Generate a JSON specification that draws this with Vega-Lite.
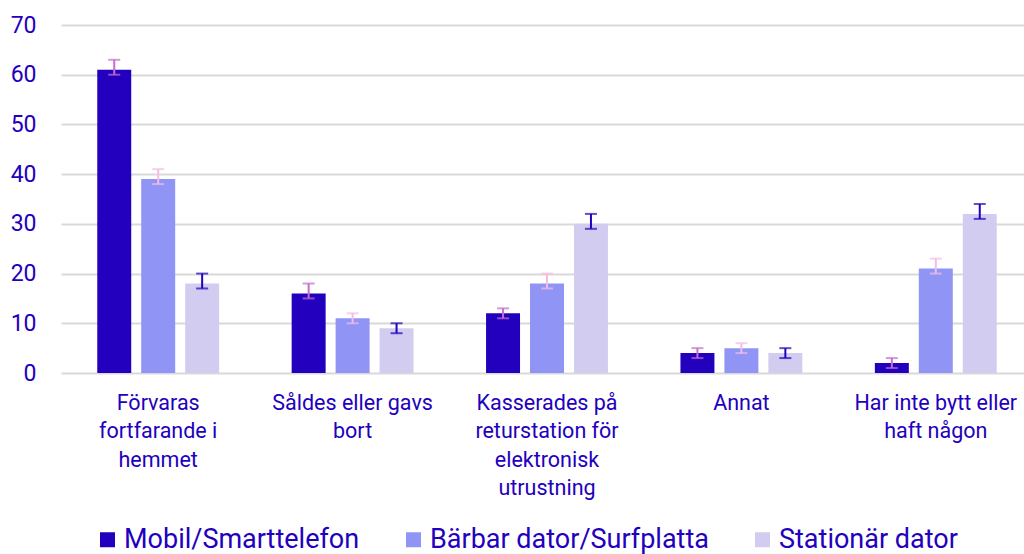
{
  "$schema": "https://vega.github.io/schema/vega-lite/v6.json",
  "usermeta": {"embedOptions": {"actions": false}},
  "width": 963,
  "height": 348,
  "autosize": "none",
  "padding": {"left": 61, "top": 25, "right": 0, "bottom": 181},
  "background": "white",
  "config": {"view": {"stroke": null}, "font": "Roboto"},
  "data": {
    "values": [
      {"kategori": "Förvaras fortfarande i hemmet", "serie": "Mobil/Smarttelefon", "andel": 61, "lo": 60, "hi": 63},
      {"kategori": "Förvaras fortfarande i hemmet", "serie": "Bärbar dator/Surfplatta", "andel": 39, "lo": 38, "hi": 41},
      {"kategori": "Förvaras fortfarande i hemmet", "serie": "Stationär dator", "andel": 18, "lo": 17, "hi": 20},
      {"kategori": "Såldes eller gavs bort", "serie": "Mobil/Smarttelefon", "andel": 16, "lo": 15, "hi": 18},
      {"kategori": "Såldes eller gavs bort", "serie": "Bärbar dator/Surfplatta", "andel": 11, "lo": 10, "hi": 12},
      {"kategori": "Såldes eller gavs bort", "serie": "Stationär dator", "andel": 9, "lo": 8, "hi": 10},
      {"kategori": "Kasserades på returstation för elektronisk utrustning", "serie": "Mobil/Smarttelefon", "andel": 12, "lo": 11, "hi": 13},
      {"kategori": "Kasserades på returstation för elektronisk utrustning", "serie": "Bärbar dator/Surfplatta", "andel": 18, "lo": 17, "hi": 20},
      {"kategori": "Kasserades på returstation för elektronisk utrustning", "serie": "Stationär dator", "andel": 30, "lo": 29, "hi": 32},
      {"kategori": "Annat", "serie": "Mobil/Smarttelefon", "andel": 4, "lo": 3, "hi": 5},
      {"kategori": "Annat", "serie": "Bärbar dator/Surfplatta", "andel": 5, "lo": 4, "hi": 6},
      {"kategori": "Annat", "serie": "Stationär dator", "andel": 4, "lo": 3, "hi": 5},
      {"kategori": "Har inte bytt eller haft någon", "serie": "Mobil/Smarttelefon", "andel": 2, "lo": 1, "hi": 3},
      {"kategori": "Har inte bytt eller haft någon", "serie": "Bärbar dator/Surfplatta", "andel": 21, "lo": 20, "hi": 23},
      {"kategori": "Har inte bytt eller haft någon", "serie": "Stationär dator", "andel": 32, "lo": 31, "hi": 34}
    ]
  },
  "encoding": {
    "x": {
      "field": "kategori",
      "type": "nominal",
      "sort": null,
      "title": null,
      "scale": {"range": [0, 972], "paddingInner": 0.373, "paddingOuter": 0.1865},
      "axis": {
        "domain": false,
        "ticks": false,
        "tickSize": 0,
        "labelAngle": 0,
        "labelPadding": 19,
        "labelFontSize": 21.5,
        "labelColor": "#2200BE",
        "labelLineHeight": 28.5,
        "labelLimit": 300,
        "labelExpr": "datum.value == 'Förvaras fortfarande i hemmet' ? ['Förvaras', 'fortfarande i', 'hemmet'] : datum.value == 'Såldes eller gavs bort' ? ['Såldes eller gavs', 'bort'] : datum.value == 'Kasserades på returstation för elektronisk utrustning' ? ['Kasserades på', 'returstation för', 'elektronisk', 'utrustning'] : datum.value == 'Har inte bytt eller haft någon' ? ['Har inte bytt eller', 'haft någon'] : datum.value"
      }
    },
    "xOffset": {
      "field": "serie",
      "type": "nominal",
      "sort": ["Mobil/Smarttelefon", "Bärbar dator/Surfplatta", "Stationär dator"],
      "scale": {"paddingInner": 0.227, "paddingOuter": 0}
    }
  },
  "layer": [
    {
      "mark": {"type": "bar"},
      "encoding": {
        "y": {
          "field": "andel",
          "type": "quantitative",
          "title": null,
          "scale": {"domain": [0, 70], "nice": false},
          "axis": {
            "values": [0, 10, 20, 30, 40, 50, 60, 70],
            "domain": false,
            "ticks": false,
            "labelPadding": 25,
            "labelFontSize": 23,
            "labelColor": "#2200BE",
            "gridColor": "#D9D9D9",
            "gridWidth": 2
          }
        },
        "color": {
          "field": "serie",
          "type": "nominal",
          "sort": ["Mobil/Smarttelefon", "Bärbar dator/Surfplatta", "Stationär dator"],
          "scale": {
            "domain": ["Mobil/Smarttelefon", "Bärbar dator/Surfplatta", "Stationär dator"],
            "range": ["#2200BE", "#8F94F5", "#D2CDF0"]
          },
          "legend": {
            "title": null,
            "orient": "none",
            "direction": "horizontal",
            "legendX": 33,
            "legendY": 501,
            "symbolType": "square",
            "symbolSize": 225,
            "symbolStrokeWidth": 0,
            "labelFontSize": 27,
            "labelColor": "#2200BE",
            "labelOffset": 3,
            "columnPadding": 40,
            "labelLimit": 400
          }
        }
      }
    },
    {
      "mark": {"type": "rule", "strokeWidth": 2},
      "encoding": {
        "y": {"field": "lo", "type": "quantitative"},
        "y2": {"field": "hi"},
        "color": {
          "field": "serie",
          "type": "nominal",
          "scale": {
            "domain": ["Mobil/Smarttelefon", "Bärbar dator/Surfplatta", "Stationär dator"],
            "range": ["#C86BCF", "#F2BCE4", "#2200BE"]
          },
          "legend": null
        }
      }
    },
    {
      "mark": {"type": "tick", "thickness": 2, "size": 12},
      "encoding": {
        "y": {"field": "lo", "type": "quantitative"},
        "color": {
          "field": "serie",
          "type": "nominal",
          "scale": {
            "domain": ["Mobil/Smarttelefon", "Bärbar dator/Surfplatta", "Stationär dator"],
            "range": ["#C86BCF", "#F2BCE4", "#2200BE"]
          },
          "legend": null
        }
      }
    },
    {
      "mark": {"type": "tick", "thickness": 2, "size": 12},
      "encoding": {
        "y": {"field": "hi", "type": "quantitative"},
        "color": {
          "field": "serie",
          "type": "nominal",
          "scale": {
            "domain": ["Mobil/Smarttelefon", "Bärbar dator/Surfplatta", "Stationär dator"],
            "range": ["#C86BCF", "#F2BCE4", "#2200BE"]
          },
          "legend": null
        }
      }
    }
  ],
  "resolve": {"scale": {"color": "independent"}}
}
